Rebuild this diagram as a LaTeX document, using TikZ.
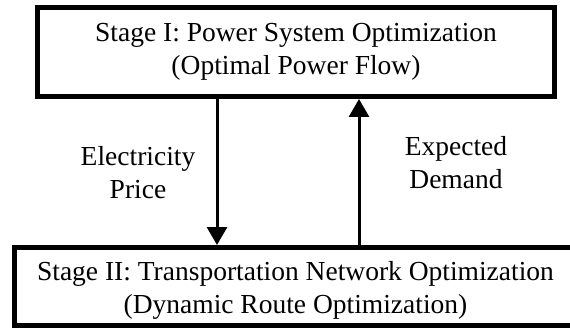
\documentclass[tikz,border=0pt]{standalone}
\usepackage{fontspec}
\setmainfont{Liberation Serif}
\usetikzlibrary{arrows.meta}

\tikzset{
    stagebox/.style={draw, line width=5pt, align=center, inner sep=0pt},
    flow/.style={line width=3pt, -{Triangle[width=20pt,length=18pt]}},
    flowlabel/.style={align=center}
}

\begin{document}
\begin{tikzpicture}[x=1pt, y=-1pt, font=\fontsize{27.5}{33}\selectfont]
        \useasboundingbox (0,0) rectangle (570,331);

        % The upper stage (power system)
        \node[stagebox, minimum width=517pt, minimum height=89pt] (stageone) at (296,52)
            {Stage I: Power System Optimization\\(Optimal Power Flow)};

        % The lower stage (transportation network), runs past the right edge
        \node[stagebox, minimum width=562pt, minimum height=78pt] (stagetwo) at (295.5,286.5)
            {\rule{0pt}{27pt}Stage II: Transportation Network Optimization\\(Dynamic Route Optimization)};

        % Exchanged quantities
        \coordinate (price) at (217,0);
        \coordinate (demand) at (359,0);
        \draw[flow] (stageone.south -| price) -- (stagetwo.north -| price);
        \draw[flow] (stagetwo.north -| demand) -- (stageone.south -| demand);

        % Labels
        \node[flowlabel] (pricelabel) at (138,173) {Electricity\\Price};
        \node[flowlabel] (demandlabel) at (456,163) {Expected\\Demand};
    \end{tikzpicture}
\end{document}
